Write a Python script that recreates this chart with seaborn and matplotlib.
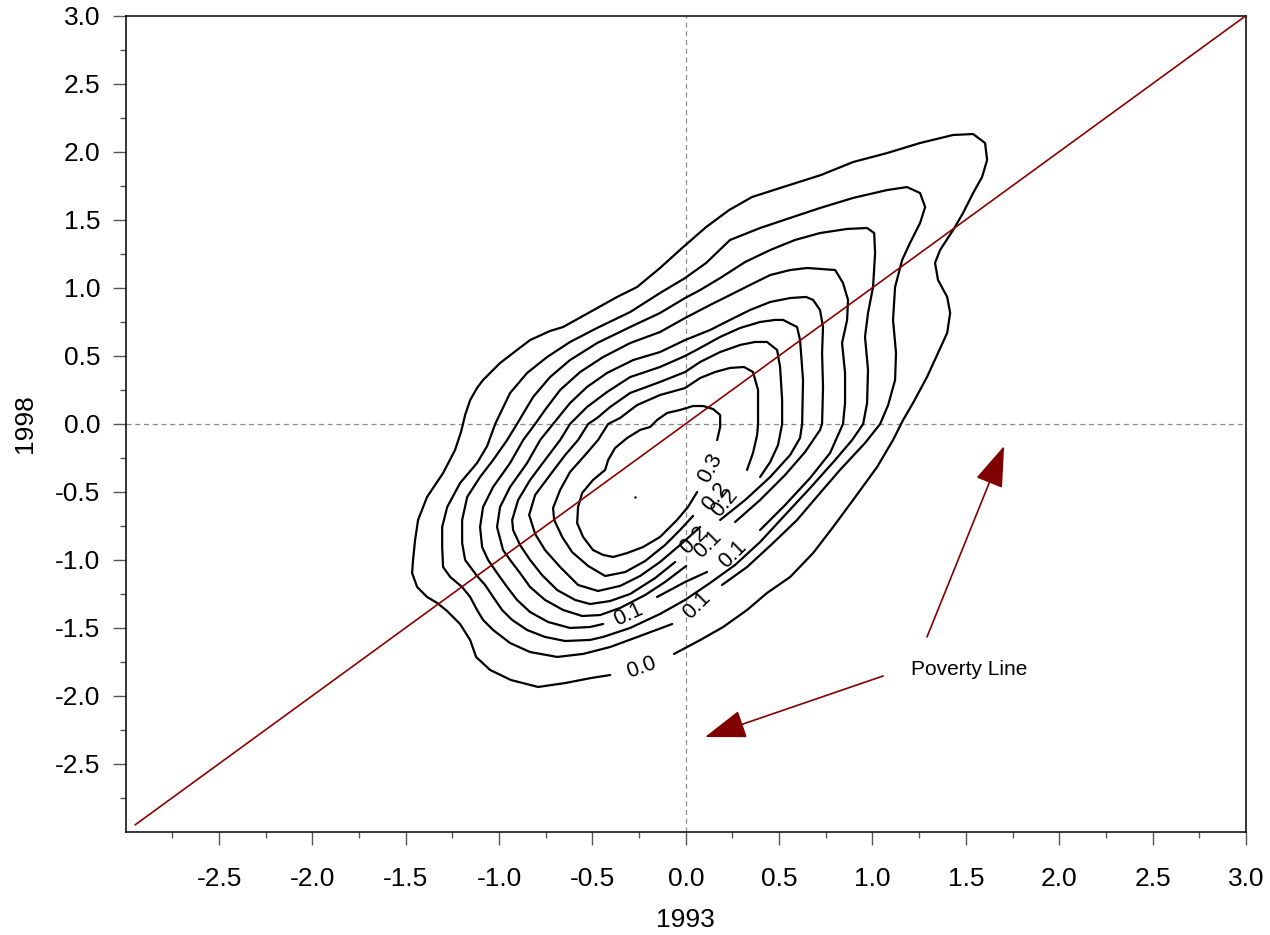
import numpy as np
import pandas as pd
import matplotlib
matplotlib.use("Agg")
import matplotlib.pyplot as plt
import seaborn as sns
from matplotlib.patches import FancyArrowPatch

sns.set_theme(style="white")
plt.rcParams['font.family'] = ['Liberation Sans', 'DejaVu Sans']
plt.rcParams['axes.unicode_minus'] = False
plt.rcParams['text.color'] = 'black'
plt.rcParams['axes.labelcolor'] = 'black'

# ---------------- data (x = 1993, y = 1998) ----------------
# contour traces, outer (lowest density) to inner; each list is one drawn piece
c1 = [(-0.405,-1.848),(-0.507,-1.870),(-0.646,-1.907),(-0.791,-1.936),(-0.936,-1.885),(-1.048,-1.811),
      (-1.123,-1.716),(-1.155,-1.591),(-1.209,-1.473),(-1.279,-1.377),(-1.332,-1.318),(-1.386,-1.274),
      (-1.439,-1.201),(-1.466,-1.098),(-1.461,-1.002),(-1.450,-0.855),(-1.434,-0.708),(-1.386,-0.539),
      (-1.300,-0.363),(-1.236,-0.193),(-1.204,-0.061),(-1.182,0.064),(-1.155,0.174),(-1.118,0.263),
      (-1.086,0.321),(-0.995,0.446),(-0.904,0.542),(-0.834,0.615),(-0.727,0.682),(-0.657,0.711),
      (-0.513,0.821),(-0.368,0.932),(-0.261,1.005),(-0.138,1.145),(-0.014,1.299),(0.109,1.446),
      (0.232,1.571),(0.355,1.667),(0.521,1.740),(0.725,1.829),(0.896,1.924),(1.078,1.990),
      (1.255,2.064),(1.432,2.123),(1.539,2.130),(1.603,2.064),(1.614,1.939),(1.587,1.814),
      (1.539,1.696),(1.485,1.549),(1.432,1.424),(1.362,1.277),(1.335,1.182),(1.351,1.057),
      (1.400,0.932),(1.416,0.814),(1.400,0.667),(1.351,0.520),(1.292,0.343),(1.217,0.152),
      (1.164,0.027),(1.110,-0.120),(1.025,-0.318),(0.896,-0.561),(0.789,-0.760),(0.682,-0.951),
      (0.559,-1.127),(0.435,-1.245),(0.328,-1.370),(0.200,-1.495),(0.077,-1.591),(-0.063,-1.693)]
c2 = [(-0.073,-1.473),(-0.245,-1.561),(-0.405,-1.642),(-0.550,-1.693),(-0.689,-1.715),(-0.834,-1.679),
      (-0.941,-1.613),(-1.032,-1.517),(-1.086,-1.443),(-1.118,-1.370),(-1.155,-1.274),(-1.198,-1.201),
      (-1.262,-1.127),(-1.300,-1.054),(-1.305,-0.907),(-1.305,-0.760),(-1.278,-0.613),(-1.209,-0.436),
      (-1.118,-0.289),(-1.064,-0.164),(-1.021,-0.002),(-0.941,0.226),(-0.850,0.373),(-0.743,0.490),
      (-0.620,0.601),(-0.475,0.704),(-0.298,0.821),(-0.138,0.961),(-0.004,1.071),(0.109,1.182),
      (0.237,1.351),(0.398,1.439),(0.559,1.513),(0.719,1.586),(0.896,1.660),(1.078,1.718),
      (1.185,1.740),(1.255,1.696),(1.282,1.593),(1.255,1.476),(1.201,1.329),(1.159,1.204),
      (1.121,1.005),(1.110,0.763),(1.126,0.520),(1.121,0.321),(1.084,0.138),(1.041,-0.002),
      (0.960,-0.142),(0.826,-0.340),(0.719,-0.510),(0.596,-0.708),(0.468,-0.877),(0.328,-1.054),
      (0.194,-1.186)]
c3 = [(-0.443,-1.568),(-0.513,-1.590),(-0.646,-1.598),(-0.754,-1.568),(-0.850,-1.517),(-0.930,-1.443),
      (-0.984,-1.370),(-1.032,-1.274),(-1.075,-1.186),(-1.118,-1.120),(-1.182,-1.002),(-1.198,-0.877),
      (-1.198,-0.708),(-1.171,-0.539),(-1.102,-0.392),(-1.032,-0.267),(-0.957,-0.120),(-0.904,-0.002),
      (-0.818,0.196),(-0.727,0.343),(-0.620,0.468),(-0.475,0.593),(-0.298,0.711),(-0.138,0.814),
      (-0.004,0.924),(0.077,0.983),(0.184,1.071),(0.318,1.189),(0.452,1.277),(0.585,1.351),
      (0.719,1.402),(0.864,1.432),(0.971,1.439),(1.009,1.402),(1.014,1.255),(1.003,1.005),
      (0.976,0.814),(0.960,0.638),(0.976,0.395),(0.971,0.152),(0.950,-0.002),(0.891,-0.120),
      (0.800,-0.267),(0.666,-0.473),(0.532,-0.671),(0.398,-0.870),(0.264,-1.039),(0.130,-1.171),
      (-0.004,-1.296),(-0.138,-1.399),(-0.298,-1.502),(-0.443,-1.568)]
c4a = [(-0.154,-1.274),(-0.084,-1.223),(-0.004,-1.164),(0.114,-1.090)]
c4b = [(0.398,-0.782),(0.532,-0.598),(0.666,-0.399),(0.773,-0.215),(0.842,-0.002),(0.853,0.152),
       (0.853,0.373),(0.837,0.593),(0.864,0.763),(0.869,0.910),(0.842,1.035),(0.800,1.130),
       (0.650,1.145),(0.559,1.130),(0.452,1.093),(0.344,1.020),(0.237,0.946),(0.130,0.873),
       (-0.004,0.777),(-0.138,0.674),(-0.298,0.593),(-0.443,0.490),(-0.566,0.380),(-0.673,0.248),
       (-0.754,0.101),(-0.807,-0.002),(-0.871,-0.120),(-0.941,-0.289),(-1.032,-0.465),(-1.086,-0.613),
       (-1.102,-0.760),(-1.091,-0.907),(-1.059,-1.002),(-1.011,-1.098),(-0.957,-1.201),(-0.904,-1.296),
       (-0.834,-1.385),(-0.738,-1.458),(-0.620,-1.502),(-0.513,-1.495),(-0.443,-1.473)]
c5 = [(0.002,-1.046),(-0.111,-1.164),(-0.218,-1.260),(-0.352,-1.355),(-0.459,-1.407),(-0.555,-1.414),
      (-0.657,-1.370),(-0.754,-1.296),(-0.834,-1.201),(-0.888,-1.098),(-0.941,-1.002),(-0.979,-0.929),
      (-1.011,-0.760),(-0.995,-0.613),(-0.941,-0.465),(-0.850,-0.289),(-0.780,-0.120),(-0.711,-0.002),
      (-0.620,0.152),(-0.529,0.270),(-0.422,0.373),(-0.282,0.468),(-0.138,0.527),(-0.004,0.615),
      (0.130,0.689),(0.237,0.763),(0.344,0.836),(0.452,0.895),(0.559,0.924),(0.644,0.932),
      (0.682,0.910),(0.719,0.836),(0.735,0.711),(0.730,0.520),(0.735,0.270),(0.730,-0.002),
      (0.719,-0.046),(0.639,-0.208),(0.532,-0.377),(0.398,-0.561),(0.264,-0.723)]
c6 = [(-0.057,-1.017),(-0.164,-1.135),(-0.298,-1.252),(-0.405,-1.304),(-0.513,-1.326),(-0.593,-1.296),
      (-0.689,-1.223),(-0.770,-1.113),(-0.834,-1.002),(-0.888,-0.892),(-0.925,-0.782),(-0.930,-0.708),
      (-0.898,-0.561),(-0.834,-0.414),(-0.754,-0.267),(-0.673,-0.120),(-0.620,-0.002),(-0.529,0.123),
      (-0.422,0.233),(-0.298,0.343),(-0.138,0.417),(-0.004,0.498),(0.077,0.557),(0.184,0.638),
      (0.291,0.704),(0.398,0.748),(0.478,0.763),(0.521,0.763),(0.596,0.711),(0.612,0.615),
      (0.628,0.321),(0.623,-0.002),(0.612,-0.105),(0.559,-0.230),(0.452,-0.392),(0.318,-0.561),
      (0.184,-0.708)]
c7 = [(0.077,-0.760),(-0.031,-0.892),(-0.138,-1.017),(-0.245,-1.120),(-0.352,-1.193),(-0.470,-1.230),
      (-0.577,-1.186),(-0.673,-1.054),(-0.754,-0.929),(-0.807,-0.811),(-0.839,-0.671),(-0.807,-0.524),
      (-0.727,-0.377),(-0.646,-0.230),(-0.577,-0.120),(-0.523,-0.002),(-0.475,0.042),(-0.405,0.123),
      (-0.298,0.226),(-0.138,0.307),(-0.004,0.380),(0.077,0.454),(0.184,0.527),(0.291,0.579),
      (0.371,0.601),(0.435,0.601),(0.489,0.542),(0.505,0.417),(0.516,0.174),(0.516,-0.002),
      (0.494,-0.157),(0.452,-0.282),(0.398,-0.392)]
c8 = [(0.039,-0.678),(-0.031,-0.782),(-0.111,-0.892),(-0.218,-1.010),(-0.325,-1.091),(-0.432,-1.120),
      (-0.523,-1.046),(-0.609,-0.944),(-0.662,-0.833),(-0.705,-0.708),(-0.711,-0.620),(-0.673,-0.487),
      (-0.620,-0.355),(-0.539,-0.230),(-0.470,-0.120),(-0.416,-0.002),(-0.352,0.042),(-0.261,0.137),
      (-0.138,0.211),(-0.004,0.262),(0.077,0.336),(0.157,0.380),(0.237,0.410),(0.312,0.417),
      (0.360,0.380),(0.387,0.248),(0.387,0.123),(0.387,-0.002),(0.382,-0.083),(0.360,-0.215),
      (0.328,-0.340)]
c9 = [(0.061,-0.502),(0.012,-0.612),(-0.047,-0.708),(-0.138,-0.833),(-0.229,-0.907),(-0.314,-0.951),
      (-0.389,-0.980),(-0.443,-0.965),(-0.497,-0.929),(-0.550,-0.833),(-0.582,-0.731),(-0.577,-0.612),
      (-0.555,-0.509),(-0.497,-0.414),(-0.432,-0.340),(-0.416,-0.267),(-0.379,-0.179),(-0.314,-0.105),
      (-0.245,-0.046),(-0.191,-0.024),(-0.154,0.027),(-0.100,0.079),(-0.031,0.101),(0.039,0.130),
      (0.093,0.130),(0.146,0.108),(0.184,0.064),(0.184,-0.024),(0.168,-0.120)]
peak = [(-0.271,-0.539)]

# contour labels
label_text = ["0.0", "0.1", "0.1", "0.1", "0.1", "0.2", "0.2", "0.2", "0.3"]
label_x    = [-0.239, 0.060, -0.309, 0.253, 0.119, 0.044, 0.210, 0.157, 0.130]
label_y    = [-1.796, -1.340, -1.407, -0.963, -0.892, -0.855, -0.582, -0.539, -0.326]
label_rot  = [20, 45, 25, 45, 45, 45, 50, 50, 62]

# 45-degree reference line
diag_x = [-2.95, 3.0]
diag_y = [-2.95, 3.0]

# annotation arrows (tail -> tip) and text
arrow_tails = [(1.292, -1.568), (1.057, -1.855)]
arrow_tips  = [(1.705, -0.164), (0.103, -2.304)]
note_text = "Poverty Line"
note_xy = (1.207, -1.811)

x_ticks = [-2.5, -2.0, -1.5, -1.0, -0.5, 0.0, 0.5, 1.0, 1.5, 2.0, 2.5, 3.0]
y_ticks = [-2.5, -2.0, -1.5, -1.0, -0.5, 0.0, 0.5, 1.0, 1.5, 2.0, 2.5, 3.0]
x_tick_labels = ["-2.5", "-2.0", "-1.5", "-1.0", "-0.5", "0.0", "0.5", "1.0", "1.5", "2.0", "2.5", "3.0"]
y_tick_labels = x_tick_labels
minor_ticks = [-2.75, -2.25, -1.75, -1.25, -0.75, -0.25, 0.25, 0.75, 1.25, 1.75, 2.25, 2.75]

# ---------------- figure ----------------
fig = plt.figure(figsize=(12.7, 9.35), dpi=100)
ax = fig.add_axes([0.099, 0.1105, 0.882, 0.8727])

pieces = {"c1": c1, "c2": c2, "c3": c3, "c4a": c4a, "c4b": c4b, "c5": c5,
          "c6": c6, "c7": c7, "c8": c8, "c9": c9}
rows = []
for name, pts in pieces.items():
    for i, (x, y) in enumerate(pts):
        rows.append({"piece": name, "i": i, "x": x, "y": y})
df = pd.DataFrame(rows)

# reference dashed lines
ax.axhline(0, color="#8c8c8c", lw=0.9, ls=(0, (4, 3)), zorder=1)
ax.axvline(0, color="#8c8c8c", lw=0.9, ls=(0, (4, 3)), zorder=1)

sns.lineplot(data=df, x="x", y="y", units="piece", estimator=None, sort=False,
             color="black", linewidth=1.6, ax=ax, zorder=3)
sns.lineplot(x=diag_x, y=diag_y, color="#8b0000", linewidth=1.2, ax=ax, zorder=4)
ax.plot([p[0] for p in peak], [p[1] for p in peak], marker=".", ms=1.5, color="black", ls="none")

for t, x, y, r in zip(label_text, label_x, label_y, label_rot):
    ax.text(x, y, t, rotation=r, rotation_mode="anchor", ha="center", va="center",
            fontsize=15.5, color="black", zorder=5)

for tail, tip in zip(arrow_tails, arrow_tips):
    arr = FancyArrowPatch(tail, tip, arrowstyle="-|>,head_length=2.6,head_width=0.9",
                          mutation_scale=10, color="#800000", lw=1.2,
                          shrinkA=0, shrinkB=0, zorder=4)
    ax.add_patch(arr)
ax.text(note_xy[0], note_xy[1], note_text, ha="left", va="center", fontsize=15, color="black")

ax.set_xlim(-3, 3)
ax.set_ylim(-3, 3)
ax.set_xticks(x_ticks, labels=x_tick_labels)
ax.set_yticks(y_ticks, labels=y_tick_labels)
ax.set_xticks(minor_ticks, minor=True)
ax.set_yticks(minor_ticks, minor=True)
ax.tick_params(axis="both", which="major", direction="out", length=9.4, width=1.0,
               color="#555555", labelsize=19, labelcolor="black")
ax.tick_params(axis="both", which="minor", direction="out", length=4.5, width=1.0, color="#555555")
ax.tick_params(axis="x", which="major", pad=16)
ax.tick_params(axis="y", which="major", pad=9)
ax.tick_params(bottom=True, left=True, which="both")

for s in ax.spines.values():
    s.set_visible(True)
    s.set_color("black")
    s.set_linewidth(1.1)

ax.set_xlabel("1993", fontsize=19, color="black")
ax.set_ylabel("1998", fontsize=19, color="black")
ax.xaxis.set_label_coords(0.5, -0.108)
ax.xaxis.label.set_va("center")
ax.yaxis.set_label_coords(-0.09, 0.5)
ax.yaxis.label.set_va("center")
ax.grid(False)

fig.savefig("out.png", dpi=100)
